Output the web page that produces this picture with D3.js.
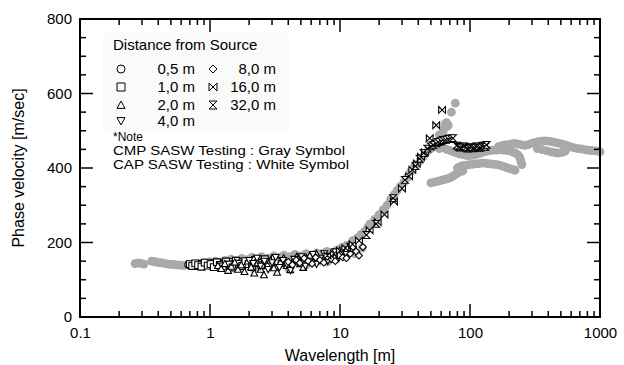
<!DOCTYPE html>
<html><head><meta charset="utf-8">
<script src="https://cdn.jsdelivr.net/npm/d3@7"></script>
<style>body{margin:0;background:#fff}svg{display:block}text{font-family:"Liberation Sans",Arial,sans-serif}</style>
</head><body><svg id="c" width="624" height="365"></svg>
<script>
// ---- data ----
const xTicks = [0.1, 1, 10, 100, 1000];
const yTicks = [0, 200, 400, 600, 800];
const xLabel = "Wavelength [m]";
const yLabel = "Phase velocity [m/sec]";
const legendTitle = "Distance from Source";
const seriesNames = ["0,5 m", "1,0 m", "2,0 m", "4,0 m", "8,0 m", "16,0 m", "32,0 m"];
const noteLines = ["*Note", "CMP SASW Testing : Gray Symbol", "CAP SASW Testing : White Symbol"];

// CMP (gray) points [wavelength, velocity]
const cmpShort = [[0.265,143],[0.28,145],[0.295,144],[0.31,142],[0.355,150],[0.37,149],[0.385,148],[0.40,146],[0.42,146],[0.44,144],[0.46,143],[0.48,142],[0.50,141],[0.525,141],[0.55,140],[0.575,139],[0.60,139],[0.63,138],[0.66,140]];
const cmpFlat = [[0.7,141],[0.8,144],[0.9,146],[1.0,148],[1.1,150],[1.2,147],[1.3,152],[1.45,155],[1.6,151],[1.75,157],[1.9,154],[2.1,160],[2.3,156],[2.5,162],[2.8,158],[3.1,164],[3.4,160],[3.7,166],[4.1,162],[4.5,168],[5.0,164],[5.5,170],[6.0,166],[6.6,172],[7.2,170],[7.9,176],[8.7,174],[9.5,180],[10.3,186],[11.2,192],[2.2,128],[3.0,135],[4.0,132],[5.5,140],[7.0,150],[8.0,148],[13,170],[14.8,185]];
const cmpRise = [[12.5,205],[13.5,212],[14.5,222],[15.5,230],[16.3,240],[17,250],[18.5,262],[20,275],[21.5,288],[23,300],[24.5,315],[26,328],[27.5,340],[29,350],[31,362],[33,375],[35,390],[37,402],[39,410],[41.5,420],[44,432],[47,445],[50,452],[54,460],[58,489],[62,496],[64,510],[65,520],[66,522],[67,512],[68,515],[72,550],[77,574]];
const cmpMiddle = [[58,452],[62,455],[66,450],[70,447],[74,444],[78,441],[83,438],[88,436],[93,434],[98,433],[104,434],[110,436],[116,438],[123,441],[130,444],[137,446],[145,447],[153,448],[162,448],[171,449],[181,448],[191,447],[202,446],[213,443],[224,440],[234,435],[241,429],[245,422],[248,415],[251,409]];
const cmpUpper = [[165,457],[175,460],[186,462],[197,463],[209,465],[222,466],[236,464],[250,462],[265,461],[281,463],[298,466],[316,469],[335,471],[356,472],[377,473],[400,472],[424,471],[450,469],[477,467],[506,465],[537,462],[570,459],[604,456],[641,454],[680,452],[721,451],[765,449],[811,448],[860,447],[912,446],[967,445],[1000,443],[330,452],[360,449],[390,446],[420,443],[450,441],[480,440],[510,442],[540,445]];
const cmpLowerA = [[50,360],[53,362],[56,364],[59,366],[62,368],[65,370],[68,372],[71,375],[74,378],[77,382],[80,386],[84,390],[88,392]];
const cmpLowerB = [[80,400],[84,404],[88,406],[93,407],[98,409],[104,410],[110,411],[116,412],[123,413],[130,413],[137,412],[145,411],[153,410],[162,409],[171,407],[181,404],[191,401],[202,398],[213,396],[222,394]];

// CAP (white) points per source distance
const cap05 = [[0.68,140],[0.70,138],[0.72,141],[0.74,139],[0.76,142],[0.78,140],[0.80,137],[0.82,141],[0.85,143],[0.87,139],[0.90,142],[0.93,144],[0.96,140],[0.99,143],[1.02,145],[1.06,141],[1.10,144],[1.14,146],[1.18,142],[1.23,145],[1.28,147],[1.33,143],[1.39,146],[1.45,148],[1.52,144],[1.6,147],[1.68,149]];
const cap10 = [[0.70,142],[0.73,137],[0.77,144],[0.81,139],[0.86,135],[0.91,146],[0.96,138],[1.01,142],[1.07,134],[1.13,147],[1.19,140],[1.26,136],[1.33,149],[1.41,141],[1.49,133],[1.58,151],[1.67,143],[1.77,137],[1.87,150],[1.98,142],[2.1,134],[2.22,153],[2.35,145],[2.49,139],[2.64,155],[2.8,147],[2.97,140],[3.15,157],[3.34,149],[3.55,144]];
const cap20 = [[1.15,138],[1.22,130],[1.3,143],[1.38,125],[1.46,136],[1.55,147],[1.64,128],[1.74,140],[1.84,122],[1.95,150],[2.07,134],[2.19,118],[2.32,145],[2.46,128],[2.6,113],[2.76,140],[2.92,152],[3.1,132],[3.28,120],[3.48,147],[3.69,158],[3.9,138],[4.14,127],[4.38,152],[4.65,162],[4.92,143],[5.22,133],[5.53,158],[5.86,165],[6.2,148],[6.58,170],[6.97,155]];
const cap40 = [[2.0,152],[2.15,144],[2.3,158],[2.45,137],[2.62,150],[2.8,128],[3.0,146],[3.2,160],[3.42,133],[3.65,152],[3.9,141],[4.17,125],[4.45,155],[4.75,145],[5.08,162],[5.42,137],[5.8,150],[6.2,168],[6.6,142],[7.05,158],[7.55,170],[8.05,150],[8.6,163],[9.2,175],[9.8,158],[10.5,180],[11.2,168],[12,190]];
const cap80 = [[4.0,148],[4.3,140],[4.6,153],[4.9,145],[5.3,158],[5.7,150],[6.1,143],[6.5,160],[7.0,153],[7.5,146],[8.0,162],[8.6,155],[9.2,150],[9.8,165],[10.5,160],[11.2,158],[12,170],[12.6,188],[13.3,176],[14,165],[15,188]];
const cap160 = [[8,165],[9,170],[10,178],[11,185],[12.5,195],[14,205],[16.9,233],[19.5,255],[22,275],[26,310],[30,345],[34,378],[36,395],[39,412],[42,430],[45,442],[49,480],[55,515],[61,556]];
const cap320 = [[16,220],[19,250],[25.6,319],[31.6,368],[38,405],[41,425],[44,440],[47,452],[50,458],[52,462],[55,466],[57,470],[60,472],[62,475],[65,476],[68,478],[71,479],[74,480],[79,460],[82,457],[84,455],[87,457],[90,458],[93,455],[96,452],[99,454],[102,456],[105,453],[108,454],[111,457],[114,458],[117,454],[120,455],[124,458],[127,460],[131,457],[134,462]];

// ---- chart ----
const svg = d3.select("#c");
const x = d3.scaleLog().domain([0.1, 1000]).range([80, 600]);
const y = d3.scaleLinear().domain([0, 800]).range([317, 19]);

// legend background (very faint)
svg.append("rect").attr("x",103).attr("y",33).attr("width",186).attr("height",98).attr("fill","#fafafa");

// gray points
const cmpAll = [].concat(cmpShort, cmpFlat, cmpRise, cmpMiddle, cmpUpper, cmpLowerA, cmpLowerB);
svg.append("g").selectAll("circle").data(cmpAll).join("circle")
  .attr("cx", d => x(d[0])).attr("cy", d => y(d[1])).attr("r", 4.4).attr("fill", "#a9a9a9");

// symbol paths
function shape(kind, h) {
  switch (kind) {
    case "circle": return `M${h},0A${h},${h} 0 1,1 ${-h},0A${h},${h} 0 1,1 ${h},0Z`;
    case "square": return `M${-h},${-h}H${h}V${h}H${-h}Z`;
    case "up": return `M0,${-h}L${h},${h*0.85}L${-h},${h*0.85}Z`;
    case "down": return `M0,${h}L${h},${-h*0.85}L${-h},${-h*0.85}Z`;
    case "diamond": return `M0,${-h}L${h},0L0,${h}L${-h},0Z`;
    case "bowtie": return `M${-h},${-h}L${h},${h}L${h},${-h}L${-h},${h}Z`;
    case "hourglass": return `M${-h},${-h}L${h},${-h}L${-h},${h}L${h},${h}Z`;
  }
}
const kinds = ["circle","square","up","down","diamond","bowtie","hourglass"];
const capSeries = [cap05, cap10, cap20, cap40, cap80, cap160, cap320];
capSeries.forEach((s, i) => {
  svg.append("g").selectAll("path").data(s).join("path")
    .attr("transform", d => `translate(${x(d[0])},${y(d[1])})`)
    .attr("d", shape(kinds[i], 3.4)).attr("fill", "#fff").attr("stroke", "#000").attr("stroke-width", 1.1);
});

// frame
svg.append("rect").attr("x",80).attr("y",19).attr("width",520).attr("height",298)
  .attr("fill","none").attr("stroke","#000").attr("stroke-width",2);

// ticks (inside)
const xMinor = [];
for (let dec = 0.1; dec < 1000; dec *= 10) for (let k = 2; k <= 9; k++) xMinor.push(+(dec*k).toPrecision(3));
const tk = svg.append("g").attr("stroke","#000").attr("stroke-width",1.5);
xTicks.forEach(v => {
  tk.append("line").attr("x1",x(v)).attr("x2",x(v)).attr("y1",317).attr("y2",304);
  tk.append("line").attr("x1",x(v)).attr("x2",x(v)).attr("y1",19).attr("y2",32);
});
xMinor.forEach(v => {
  tk.append("line").attr("x1",x(v)).attr("x2",x(v)).attr("y1",317).attr("y2",311);
  tk.append("line").attr("x1",x(v)).attr("x2",x(v)).attr("y1",19).attr("y2",25);
});
d3.range(0, 801, 50).forEach(v => {
  const len = v % 200 === 0 ? 13 : 6;
  tk.append("line").attr("x1",80).attr("x2",80+len).attr("y1",y(v)).attr("y2",y(v));
  tk.append("line").attr("x1",600).attr("x2",600-len).attr("y1",y(v)).attr("y2",y(v));
});

// axis labels via d3 axes
const xAxis = d3.axisBottom(x).tickValues(xTicks).tickFormat(d3.format("~g")).tickSize(0).tickPadding(10);
const gx = svg.append("g").attr("transform","translate(0,317)").call(xAxis);
gx.select(".domain").remove();
gx.selectAll("text").attr("font-size",15).attr("font-family","Liberation Sans, Arial, sans-serif").attr("fill","#000");
const yAxis = d3.axisLeft(y).tickValues(yTicks).tickSize(0).tickPadding(8);
const gy = svg.append("g").attr("transform","translate(80,0)").call(yAxis);
gy.select(".domain").remove();
gy.selectAll("text").attr("font-size",15).attr("font-family","Liberation Sans, Arial, sans-serif").attr("fill","#000");

svg.append("text").attr("x",340).attr("y",361).attr("text-anchor","middle").attr("font-size",16).text(xLabel);
svg.append("text").attr("transform","translate(24,168) rotate(-90)").attr("text-anchor","middle").attr("font-size",16).text(yLabel);

// legend
svg.append("text").attr("x",113).attr("y",50).attr("font-size",15).text(legendTitle);
const rowsY = [74, 92, 110, 126];
const legPos = [[121,195,0],[121,195,1],[121,195,2],[121,195,3],[213,276,0],[213,276,1],[213,276,2]];
legPos.forEach((p, i) => {
  const ry = rowsY[p[2]];
  svg.append("path").attr("transform",`translate(${p[0]},${ry-5})`).attr("d", shape(kinds[i], 4))
    .attr("fill","none").attr("stroke","#000").attr("stroke-width",1);
  svg.append("text").attr("x",p[1]).attr("y",ry).attr("text-anchor","end").attr("font-size",15).text(seriesNames[i]);
});
noteLines.forEach((t, i) => {
  svg.append("text").attr("x",113).attr("y",[141,155,169][i]).attr("font-size", 12)
    .attr("textLength", i === 0 ? null : (i === 1 ? 232 : 236)).attr("lengthAdjust","spacingAndGlyphs").text(t);
});
</script></body></html>
